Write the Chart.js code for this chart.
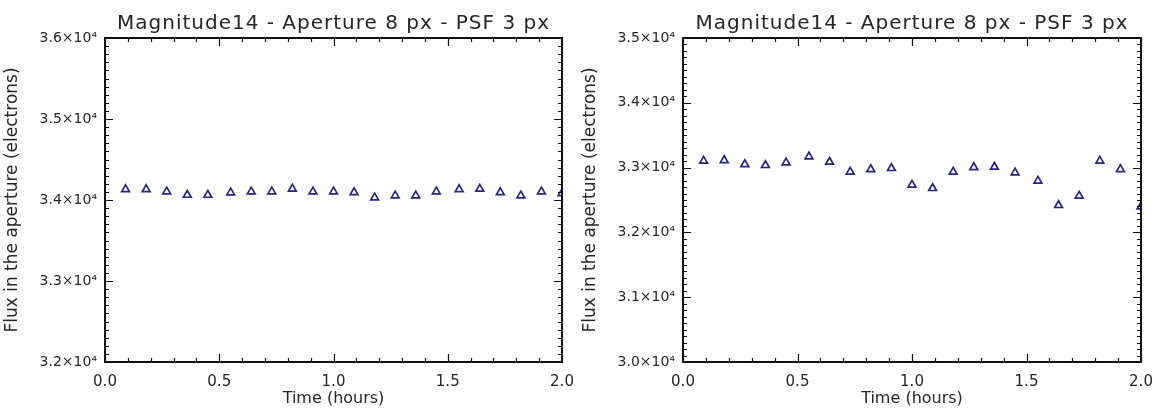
<!DOCTYPE html>
<html><head><meta charset="utf-8">
<script src="https://cdn.jsdelivr.net/npm/chart.js@4.4.1/dist/chart.umd.min.js"></script>
<style>
html,body{margin:0;padding:0;background:#fff;}
#wrap{position:relative;width:1157px;height:409px;background:#fff;}
.c{position:absolute;top:0;height:409px;}
</style></head><body>
<div id="wrap">
<div class="c" style="left:0;width:578px"><canvas id="c1"></canvas></div>
<div class="c" style="left:578px;width:579px"><canvas id="c2"></canvas></div>
</div>
<script>
// ---- data ----
const timeHours = [0.09, 0.18, 0.27, 0.36, 0.45, 0.55, 0.64, 0.73, 0.82, 0.91, 1.00,
                   1.09, 1.18, 1.27, 1.36, 1.45, 1.55, 1.64, 1.73, 1.82, 1.91, 2.00];
const fluxLeft  = [34132, 34132, 34104, 34062, 34062, 34091, 34104, 34104, 34137, 34104, 34104,
                   34095, 34029, 34054, 34054, 34104, 34132, 34137, 34095, 34054, 34104, 34083];
const fluxRight = [33103, 33113, 33051, 33036, 33077, 33170, 33087, 32933, 32974, 32990, 32733,
                   32681, 32933, 33005, 33010, 32923, 32794, 32419, 32563, 33103, 32974, 32399];
const titleText = "Magnitude14 - Aperture 8 px - PSF 3 px";
const xTitle = "Time (hours)";
const yTitle = "Flux in the aperture (electrons)";
const xRange = [0, 2];
const xMajorStep = 0.5, xMinorStep = 0.1;
const leftYRange = [32000, 36000];
const rightYRange = [30000, 35000];
const yMajorStep = 1000, yMinorStep = 100;

const TEXT = '#262626';
const FONT = 'DejaVu Sans';
const MARK = '#27277f';

function pts(xs, ys){ return xs.map((x,i)=>({x:x, y:ys[i]})); }

const idlFrame = {
  id: 'idlFrame',
  afterDatasetsDraw(chart) {
    const {ctx, chartArea: a, scales} = chart;
    const xs = scales.x, ys = scales.y;
    ctx.save();
    ctx.strokeStyle = '#111';
    ctx.lineWidth = 1.2;
    const xmin = xs.min, xmax = xs.max, ymin = ys.min, ymax = ys.max;
    ctx.beginPath();
    for (let k = 0; ; k++) {
      const v = xmin + k * xMinorStep;
      if (v > xmax + 1e-9) break;
      const major = Math.abs(v / xMajorStep - Math.round(v / xMajorStep)) < 1e-6;
      const L = major ? 8 : 4;
      const px = Math.round(xs.getPixelForValue(v)) + 0.5;
      ctx.moveTo(px, a.bottom); ctx.lineTo(px, a.bottom - L);
      ctx.moveTo(px, a.top); ctx.lineTo(px, a.top + L);
    }
    for (let k = 0; ; k++) {
      const v = ymin + k * yMinorStep;
      if (v > ymax + 1e-6) break;
      const major = Math.abs(v / yMajorStep - Math.round(v / yMajorStep)) < 1e-6;
      const L = major ? 8 : 4;
      const py = Math.round(ys.getPixelForValue(v)) + 0.5;
      ctx.moveTo(a.left, py); ctx.lineTo(a.left + L, py);
      ctx.moveTo(a.right, py); ctx.lineTo(a.right - L, py);
    }
    ctx.stroke();
    ctx.lineWidth = 2;
    ctx.strokeRect(a.left, a.top, a.right - a.left, a.bottom - a.top);
    // title
    ctx.fillStyle = TEXT;
    ctx.font = '20px "' + FONT + '"';
    ctx.letterSpacing = '1px';
    ctx.textAlign = 'center';
    ctx.textBaseline = 'alphabetic';
    ctx.fillText(titleText, (a.left + a.right) / 2, 29);
    ctx.restore();
  }
};

function makeChart(id, data, yRange) {
  return new Chart(document.getElementById(id), {
    type: 'scatter',
    data: { datasets: [{
      data: pts(timeHours, data),
      showLine: false,
      pointStyle: 'triangle',
      pointRadius: 4.5,
      pointHoverRadius: 4.5,
      borderColor: MARK,
      backgroundColor: 'rgba(0,0,0,0)',
      pointBorderWidth: 1.7,
      clip: 0
    }]},
    options: {
      responsive: true,
      maintainAspectRatio: false,
      animation: false,
      events: [],
      layout: { padding: { top: 38, right: 16, left: 0, bottom: 0 } },
      plugins: { legend: { display: false }, tooltip: { enabled: false }, title: { display: false } },
      scales: {
        x: {
          type: 'linear', min: xRange[0], max: xRange[1],
          grid: { display: false, drawTicks: false },
          border: { display: false },
          ticks: { stepSize: xMajorStep, padding: 11, color: TEXT, font: { family: FONT, size: 15 },
                   callback: v => Number(v).toFixed(1), maxRotation: 0, autoSkip: false },
          title: { display: true, text: xTitle, color: TEXT, font: { family: FONT, size: 16 }, padding: { top: 0, bottom: 1 } },
          afterFit: s => { s.height = 47; s.paddingLeft = 0; s.paddingRight = 0; }
        },
        y: {
          type: 'linear', min: yRange[0], max: yRange[1],
          grid: { display: false, drawTicks: false },
          border: { display: false },
          ticks: { stepSize: yMajorStep, padding: 8, color: TEXT, font: { family: FONT, size: 14 },
                   callback: v => (v / 10000).toFixed(1) + '\u00d710\u2074' },
          title: { display: true, text: yTitle, color: TEXT, font: { family: FONT, size: 17 }, padding: { top: 2, bottom: 0 } },
          afterFit: s => { s.width = 105; s.paddingTop = 0; s.paddingBottom = 0; }
        }
      }
    },
    plugins: [idlFrame]
  });
}
makeChart('c1', fluxLeft, leftYRange);
makeChart('c2', fluxRight, rightYRange);
</script>
</body></html>
